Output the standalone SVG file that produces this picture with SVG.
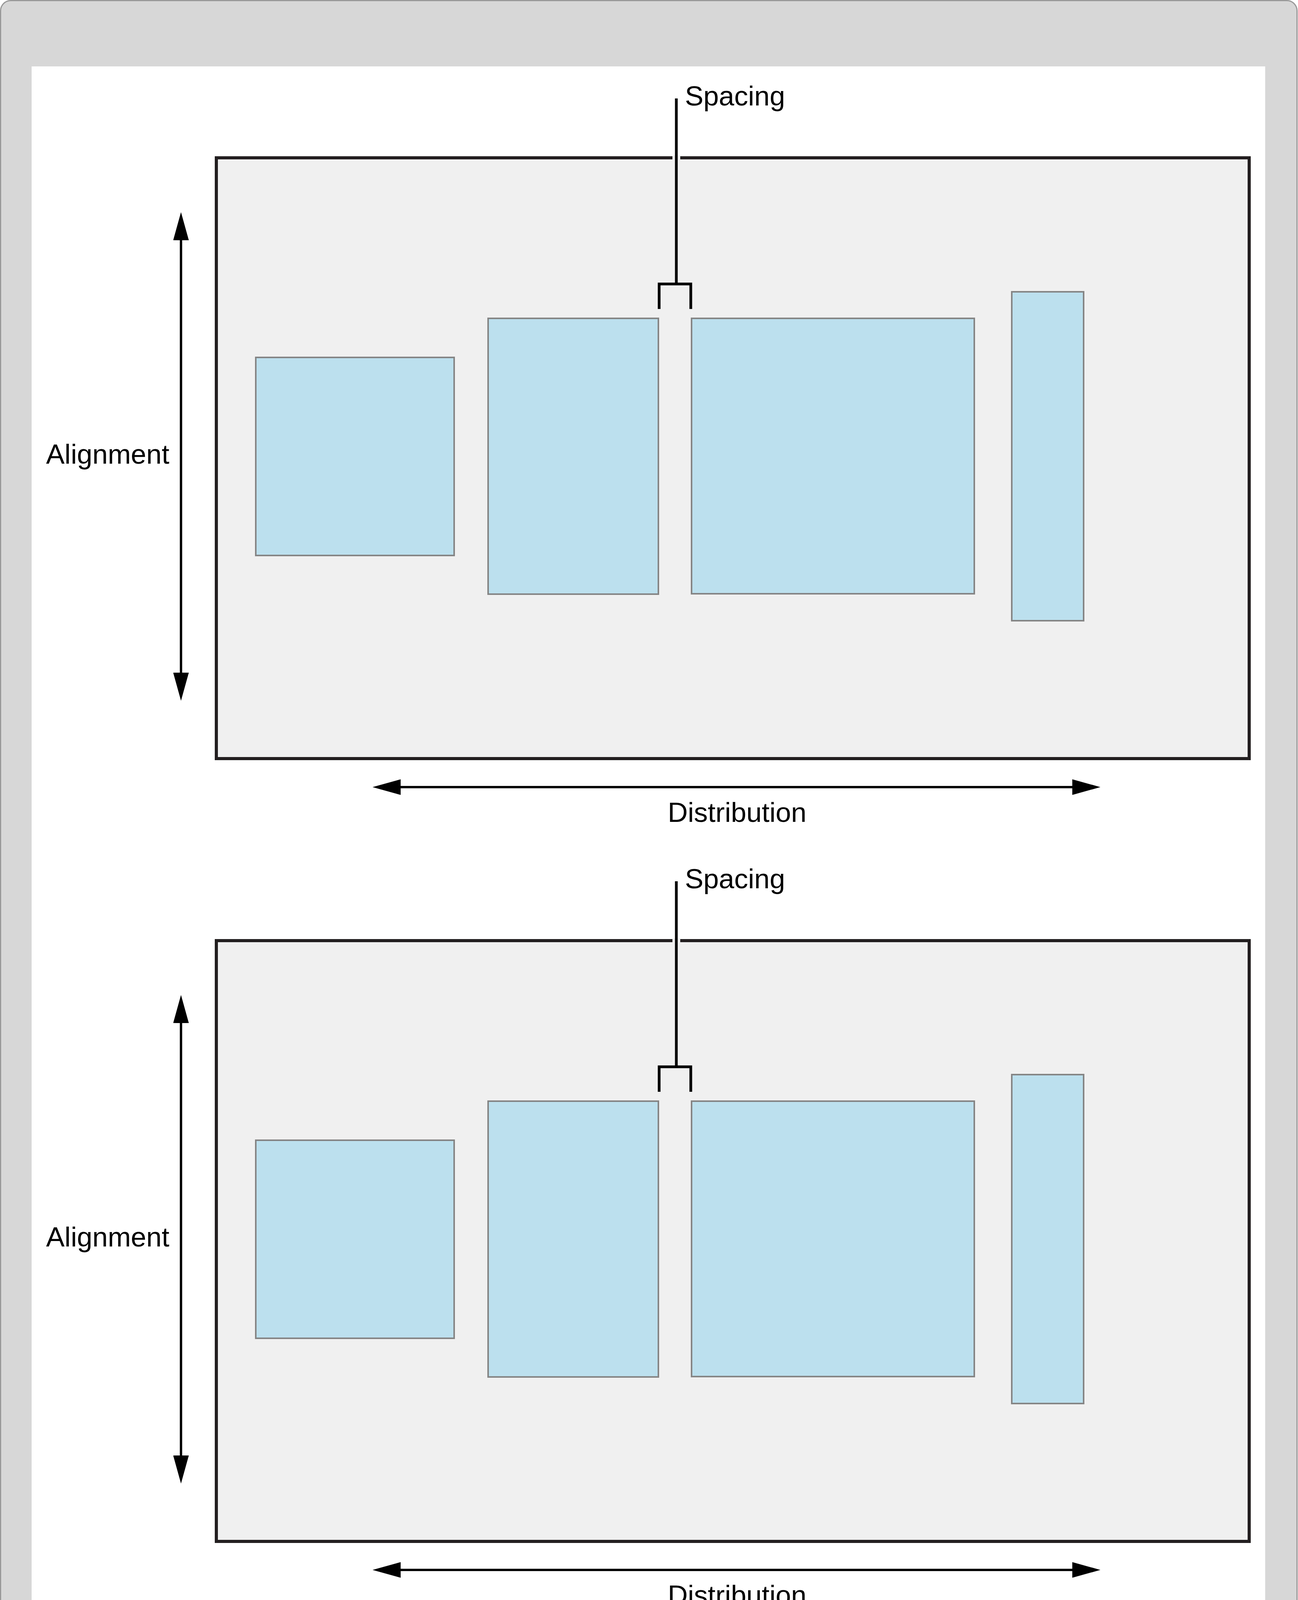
<svg xmlns="http://www.w3.org/2000/svg" xmlns:xlink="http://www.w3.org/1999/xlink" width="3324" height="6324" viewBox="0 0 3324 6324">
<defs>
<style>
.outer{fill:#d7d7d7;stroke:#999999;stroke-width:3}
.page{fill:#ffffff}
.frame{fill:#f0f0f0;stroke:#231f20;stroke-width:8}
.item{fill:#bce0ee;stroke:#858585;stroke-width:4}
.lbl{font-family:"Liberation Sans",Arial,Helvetica,sans-serif;font-size:71px;fill:#000000}
.conn{fill:none;stroke:#000000;stroke-width:6}
.brk{fill:none;stroke:#000000;stroke-width:7;stroke-linejoin:miter}
.gap{fill:#f3f3f3}
</style>
<marker id="head" markerUnits="userSpaceOnUse" markerWidth="72" markerHeight="40" viewBox="0 0 72 40" refX="0" refY="20" orient="auto-start-reverse">
<path d="M0,0 L72,20 L0,40 Z" fill="#000000"/>
</marker>
</defs>
<rect class="outer" x="1.5" y="1.5" width="3320" height="6320" rx="26" ry="26"/>
<rect class="page" x="81" y="170" width="3159" height="6013"/>

<g id="panel1">
<g id="p1-frame"><rect class="frame" x="554" y="404" width="2645" height="1538"/></g>
<g id="p1-item1"><rect class="item" x="655" y="915" width="508" height="507"/></g>
<g id="p1-item2"><rect class="item" x="1250" y="815" width="436" height="706"/></g>
<g id="p1-item3"><rect class="item" x="1771" y="815" width="724" height="705"/></g>
<g id="p1-item4"><rect class="item" x="2591" y="747" width="184" height="842"/></g>
<g id="p1-connectors">
<rect class="gap" x="1722" y="398" width="20" height="12"/>
<path class="brk" d="M1732,252 V727 M1688,791 V727 H1769 V791"/>
<line class="conn" x1="463.5" y1="615" x2="463.5" y2="1722" marker-start="url(#head)" marker-end="url(#head)"/>
<line class="conn" x1="1026" y1="2015" x2="2746" y2="2015" marker-start="url(#head)" marker-end="url(#head)"/>
</g>
<g id="p1-labels">
<text class="lbl" x="1754" y="270">Spacing</text>
<text class="lbl" x="118" y="1187">Alignment</text>
<text class="lbl" x="1710" y="2104">Distribution</text>
</g>
</g>

<g id="panel2" transform="translate(0,2004)">
<g id="p2-frame"><rect class="frame" x="554" y="404" width="2645" height="1538"/></g>
<g id="p2-item1"><rect class="item" x="655" y="915" width="508" height="507"/></g>
<g id="p2-item2"><rect class="item" x="1250" y="815" width="436" height="706"/></g>
<g id="p2-item3"><rect class="item" x="1771" y="815" width="724" height="705"/></g>
<g id="p2-item4"><rect class="item" x="2591" y="747" width="184" height="842"/></g>
<g id="p2-connectors">
<rect class="gap" x="1722" y="398" width="20" height="12"/>
<path class="brk" d="M1732,252 V727 M1688,791 V727 H1769 V791"/>
<line class="conn" x1="463.5" y1="615" x2="463.5" y2="1722" marker-start="url(#head)" marker-end="url(#head)"/>
<line class="conn" x1="1026" y1="2015" x2="2746" y2="2015" marker-start="url(#head)" marker-end="url(#head)"/>
</g>
<g id="p2-labels">
<text class="lbl" x="1754" y="270">Spacing</text>
<text class="lbl" x="118" y="1187">Alignment</text>
<text class="lbl" x="1710" y="2104">Distribution</text>
</g>
</g>

<g id="panel3" transform="translate(0,4008)">
<g id="p3-frame"><rect class="frame" x="554" y="404" width="2645" height="1538"/></g>
<g id="p3-item1"><rect class="item" x="655" y="915" width="508" height="507"/></g>
<g id="p3-item2"><rect class="item" x="1250" y="815" width="436" height="706"/></g>
<g id="p3-item3"><rect class="item" x="1771" y="815" width="724" height="705"/></g>
<g id="p3-item4"><rect class="item" x="2591" y="747" width="184" height="842"/></g>
<g id="p3-connectors">
<rect class="gap" x="1722" y="398" width="20" height="12"/>
<path class="brk" d="M1732,252 V727 M1688,791 V727 H1769 V791"/>
<line class="conn" x1="463.5" y1="615" x2="463.5" y2="1722" marker-start="url(#head)" marker-end="url(#head)"/>
<line class="conn" x1="1026" y1="2015" x2="2746" y2="2015" marker-start="url(#head)" marker-end="url(#head)"/>
</g>
<g id="p3-labels">
<text class="lbl" x="1754" y="270">Spacing</text>
<text class="lbl" x="118" y="1187">Alignment</text>
<text class="lbl" x="1710" y="2104">Distribution</text>
</g>
</g>
</svg>
